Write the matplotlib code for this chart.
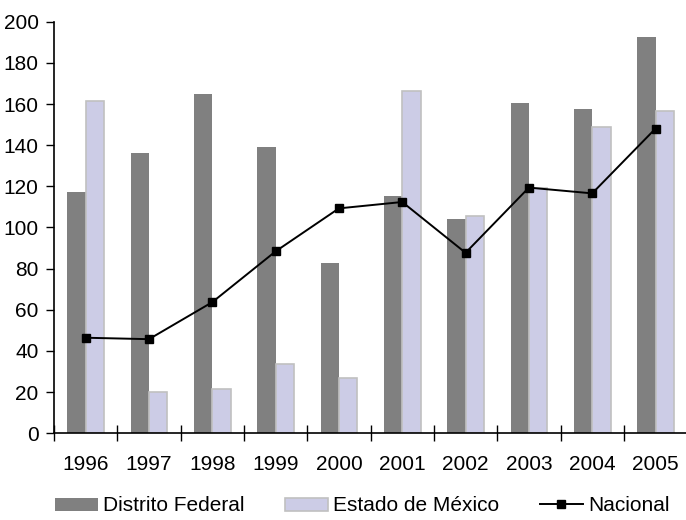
import matplotlib.pyplot as plt
import numpy as np
from matplotlib.patches import Patch
from matplotlib.lines import Line2D

plt.rcParams["font.family"] = ["Liberation Sans", "DejaVu Sans"]

years = ["1996", "1997", "1998", "1999", "2000", "2001", "2002", "2003", "2004", "2005"]
distrito_federal = [117.5, 136.3, 164.8, 139.2, 82.7, 115.3, 104.1, 160.6, 157.7, 192.7]
estado_mexico = [161.5, 20.1, 21.7, 33.4, 26.6, 166.5, 105.7, 119.0, 149.0, 156.8]
nacional = [46.4, 45.7, 63.7, 88.4, 109.3, 112.4, 87.7, 119.4, 116.6, 148.1]

fig = plt.figure(figsize=(6.86, 5.2), dpi=100)
ax = fig.add_axes([0.0787, 0.167, 0.923, 0.791])

x = np.arange(len(years))
w = 0.29
ax.bar(x - w / 2, distrito_federal, w, color="#808080", linewidth=0, zorder=2)
ax.bar(x + w / 2, estado_mexico, w, color="#CCCCE6", edgecolor="#C0C0C0",
       linewidth=1.2, zorder=2)
ax.plot(x, nacional, color="black", linewidth=1.4, marker="s", markersize=6,
        zorder=3)

fs = 15
ax.set_xlim(-0.5, 9.5)
ax.set_ylim(0, 200)
ax.set_yticks(np.arange(0, 201, 20))
ax.tick_params(axis="y", direction="out", length=6, width=1, pad=5, labelsize=fs)

ax.set_xticks(np.arange(-0.5, 9.6, 1))
ax.set_xticklabels([])
ax.set_xticks(x, minor=True)
ax.set_xticklabels(years, minor=True)
ax.tick_params(axis="x", which="major", direction="inout", length=12, width=1)
ax.tick_params(axis="x", which="minor", length=0, pad=16, labelsize=fs)

for s in ["top", "right"]:
    ax.spines[s].set_visible(False)
for s in ["left", "bottom"]:
    ax.spines[s].set_linewidth(1.2)

handles = [
    Patch(facecolor="#808080", edgecolor="none"),
    Patch(facecolor="#CCCCE6", edgecolor="#C0C0C0", linewidth=1.2),
    Line2D([0], [0], color="black", linewidth=1.4, marker="s", markersize=6),
]
labels = ["Distrito Federal", "Estado de México", "Nacional"]
fig.legend(handles, labels, loc="center", bbox_to_anchor=(0.528, 0.027), ncol=3,
           frameon=False, fontsize=fs, handlelength=2.05, handleheight=0.6,
           handletextpad=0.25, columnspacing=1.95)

fig.savefig("out.png", dpi=100)
